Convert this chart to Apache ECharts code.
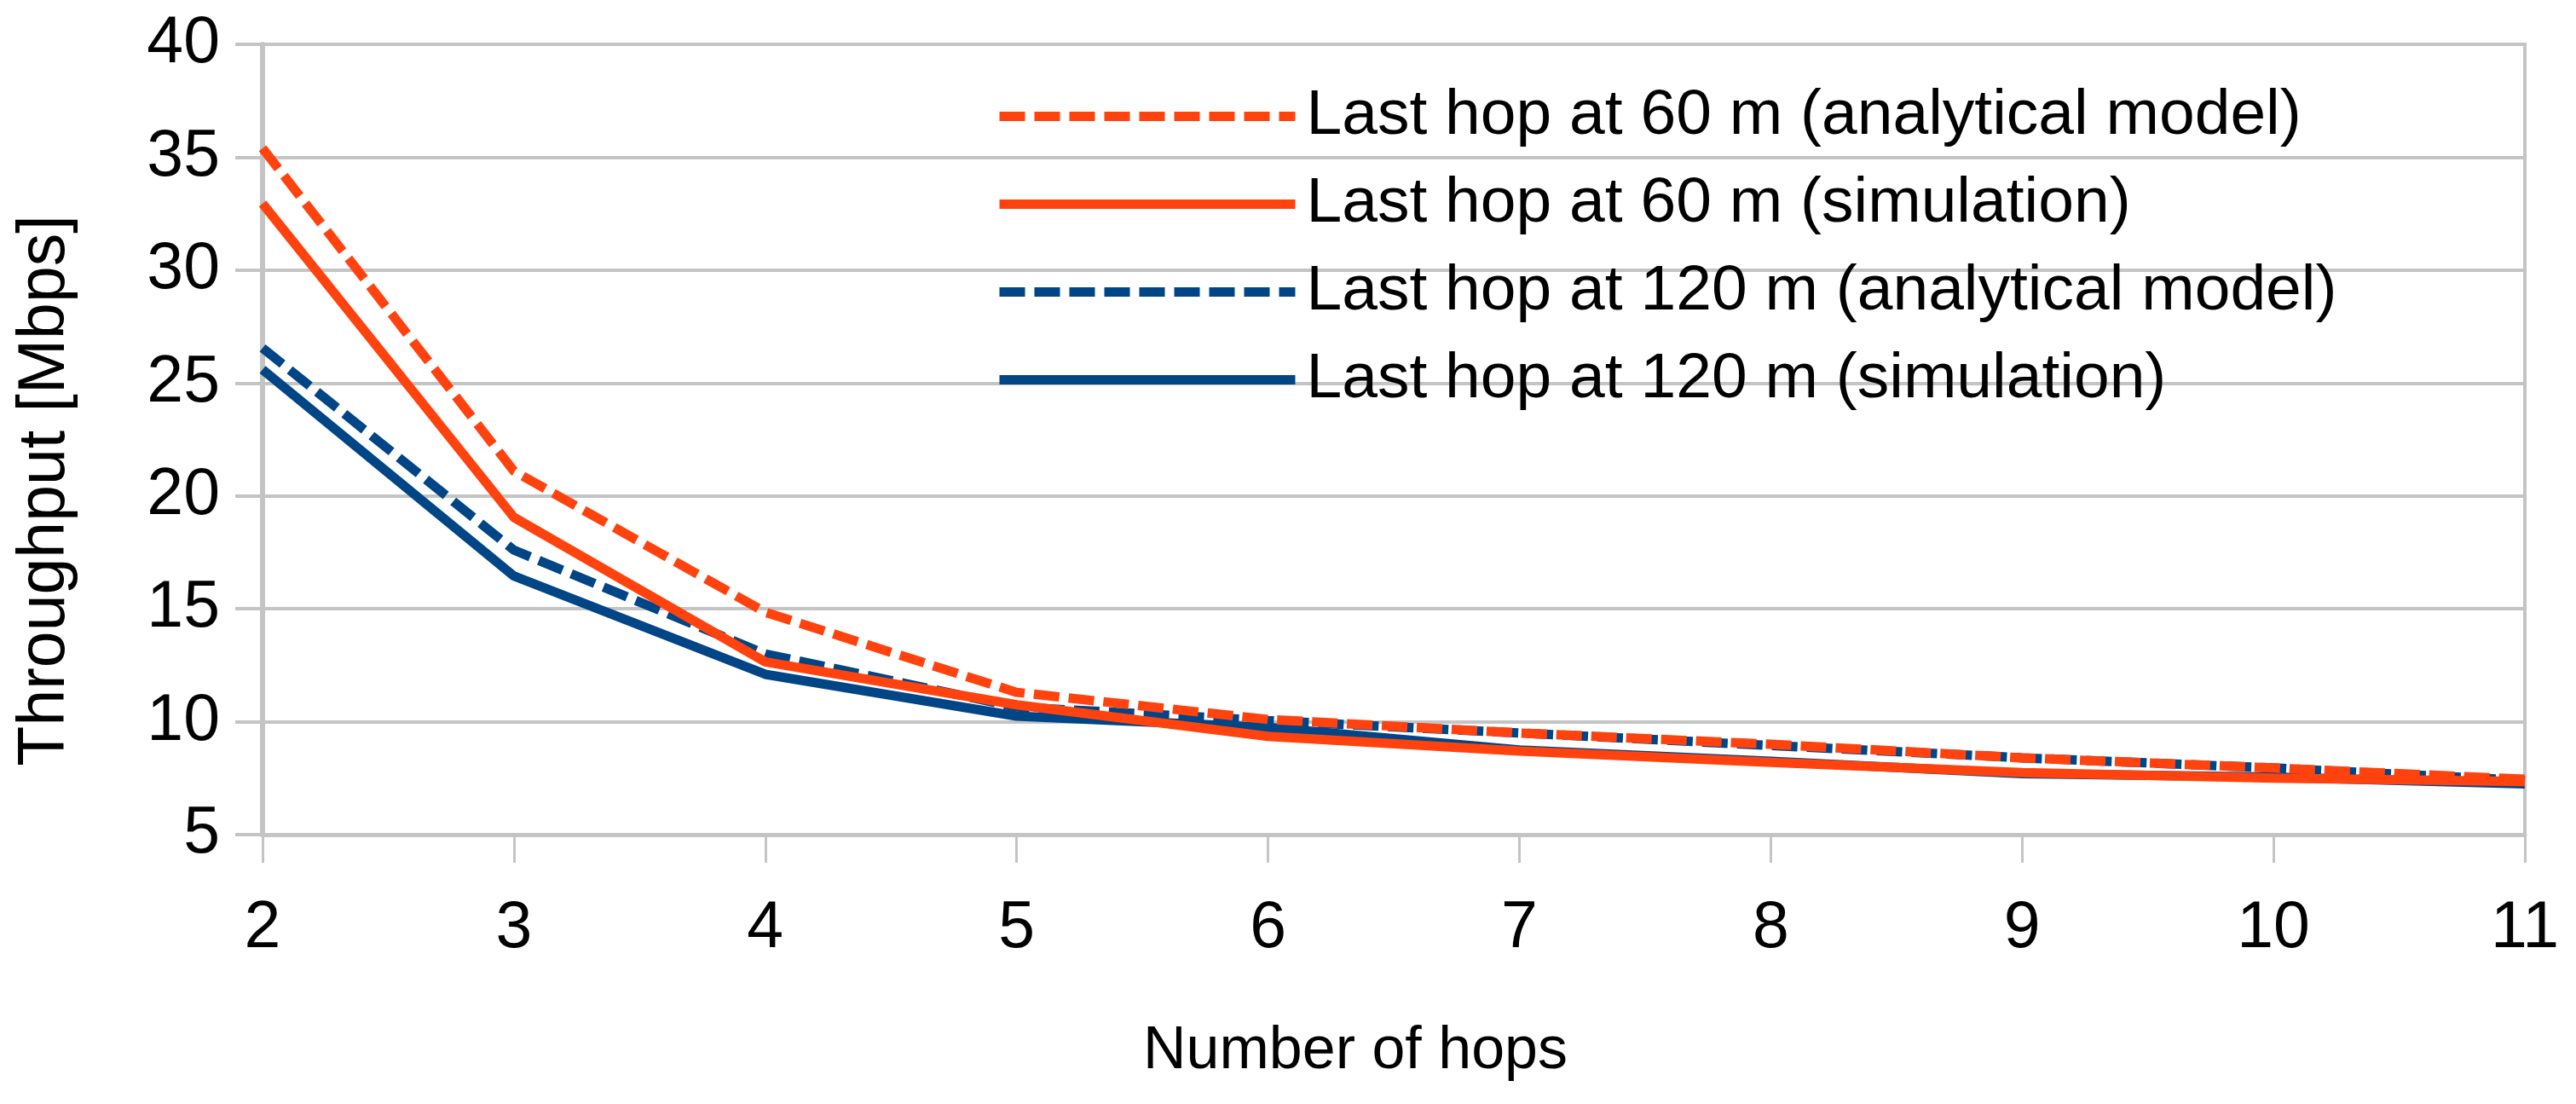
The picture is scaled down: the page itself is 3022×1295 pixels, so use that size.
<!DOCTYPE html>
<html>
<head>
<meta charset="utf-8">
<script src="https://cdn.jsdelivr.net/npm/echarts@6/dist/echarts.min.js"></script>
<style>
html,body{margin:0;padding:0;background:#fff;}
#chart{width:3022px;height:1295px;}
</style>
</head>
<body>
<div id="chart"></div>
<script>
const hops = ['2','3','4','5','6','7','8','9','10','11'];
const nameA60 = 'Last hop at 60 m (analytical model)';
const nameS60 = 'Last hop at 60 m (simulation)';
const nameA120 = 'Last hop at 120 m (analytical model)';
const nameS120 = 'Last hop at 120 m (simulation)';
const analytical60 = [35.4, 21.1, 14.85, 11.3, 10.1, 9.5, 9.0, 8.4, 7.95, 7.45];
const simulation60 = [32.95, 19.05, 12.65, 10.75, 9.35, 8.7, 8.2, 7.75, 7.5, 7.35];
const analytical120 = [26.55, 17.6, 13.0, 10.65, 10.05, 9.5, 8.95, 8.4, 7.95, 7.4];
const simulation120 = [25.6, 16.45, 12.1, 10.25, 9.75, 8.75, 8.25, 7.7, 7.55, 7.25];
const yTicks = [5, 40, 5]; // min, max, interval

const ORANGE = '#ff420e';
const BLUE = '#004586';
const GRID = '#c4c4c4';
const FONT = 'Liberation Sans';

const chart = echarts.init(document.getElementById('chart'), null, {renderer: 'canvas'});
const dash = [30, 11];
const lw = 11;

chart.setOption({
  animation: false,
  backgroundColor: '#ffffff',
  textStyle: {fontFamily: FONT, color: '#000'},
  grid: {
    left: 308, right: 60, top: 52, bottom: 316,
    show: true, borderColor: GRID, borderWidth: 4, backgroundColor: 'transparent'
  },
  legend: {
    orient: 'vertical',
    left: 1162,
    top: 94,
    itemWidth: 347,
    itemHeight: 30,
    itemGap: 28,
    selectedMode: false,
    data: [nameA60, nameS60, nameA120, nameS120],
    itemStyle: {opacity: 0},
    lineStyle: {width: lw},
    textStyle: {fontFamily: FONT, fontSize: 75, color: '#000', padding: [0, 0, 0, 8]}
  },
  xAxis: {
    type: 'category',
    data: hops,
    boundaryGap: false,
    name: 'Number of hops',
    nameLocation: 'middle',
    nameGap: 220,
    nameTextStyle: {fontFamily: FONT, fontSize: 70, color: '#000', padding: [0, 90, 0, 0]},
    axisLine: {show: true, lineStyle: {color: GRID, width: 5}},
    axisTick: {show: true, inside: false, length: 33, alignWithLabel: true, lineStyle: {color: GRID, width: 3}},
    axisLabel: {fontFamily: FONT, fontSize: 77, color: '#000', margin: 72},
    splitLine: {show: false}
  },
  yAxis: {
    type: 'value',
    min: yTicks[0], max: yTicks[1], interval: yTicks[2],
    name: 'Throughput [Mbps]',
    nameLocation: 'middle',
    nameGap: 216,
    nameTextStyle: {fontFamily: FONT, fontSize: 77, color: '#000', padding: [0, 120, 0, 0]},
    axisLine: {show: true, lineStyle: {color: GRID, width: 6}},
    axisTick: {show: true, inside: false, length: 32, lineStyle: {color: GRID, width: 4}},
    axisLabel: {fontFamily: FONT, fontSize: 77, color: '#000', margin: 50},
    splitLine: {show: true, lineStyle: {color: GRID, width: 4}}
  },
  series: [
    {name: nameS120, type: 'line', data: simulation120, symbol: 'none', color: BLUE,
     lineStyle: {color: BLUE, width: lw, type: 'solid'}},
    {name: nameA120, type: 'line', data: analytical120, symbol: 'none', color: BLUE,
     lineStyle: {color: BLUE, width: lw, type: dash}},
    {name: nameS60, type: 'line', data: simulation60, symbol: 'none', color: ORANGE,
     lineStyle: {color: ORANGE, width: lw, type: 'solid'}},
    {name: nameA60, type: 'line', data: analytical60, symbol: 'none', color: ORANGE,
     lineStyle: {color: ORANGE, width: lw, type: dash}}
  ]
});
</script>
</body>
</html>
